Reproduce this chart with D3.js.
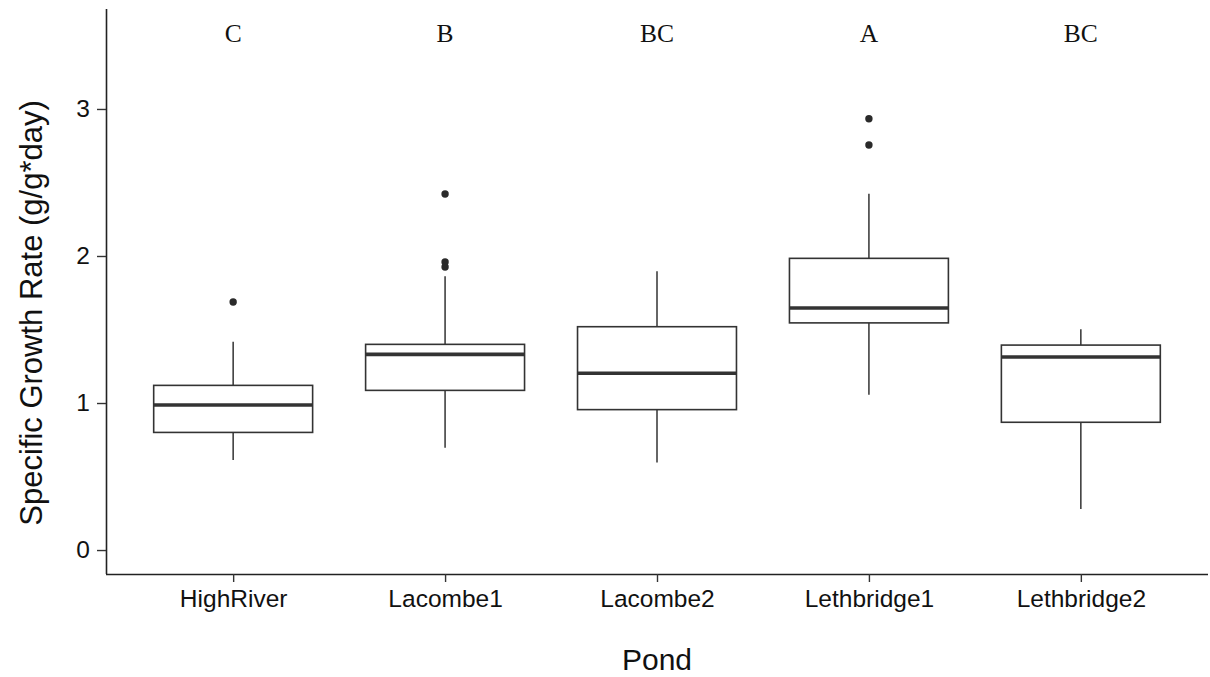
<!DOCTYPE html>
<html>
<head>
<meta charset="utf-8">
<script src="https://cdn.jsdelivr.net/npm/d3@7"></script>
<style>
  html, body { margin: 0; padding: 0; background: #fff; }
  svg { display: block; }
</style>
</head>
<body>
<svg id="chart" width="1210" height="677"></svg>
<script>
// Pond categories and box-plot summaries of specific growth rate (g/g*day)
const ponds = ["HighRiver", "Lacombe1", "Lacombe2", "Lethbridge1", "Lethbridge2"];
const whiskerLow  = [0.612, 0.695, 0.596, 1.056, 0.279];
const q1          = [0.800, 1.086, 0.955, 1.545, 0.869];
const median      = [0.987, 1.331, 1.202, 1.646, 1.313];
const q3          = [1.120, 1.399, 1.519, 1.984, 1.394];
const whiskerHigh = [1.416, 1.862, 1.896, 2.424, 1.501];
const outliers    = [[1.687], [2.422, 1.960, 1.925], [], [2.934, 2.755], []];
// Significance letters shown above each pond
const letters = ["C", "B", "BC", "A", "BC"];
const letterLevel = 3.5;
const yTicks = [0, 1, 2, 3];

const svg = d3.select("#chart");
const plotLeft = 106, plotRight = 1208, plotTop = 9, plotBottom = 574;

const x = d3.scalePoint().domain(ponds).range([plotLeft, plotRight]).padding(0.6);
const y = d3.scaleLinear().domain([-0.163, 3.68]).range([plotBottom, plotTop]);
const boxW = x.step() * 0.75;
const ink = "#333333";

const data = ponds.map((p, i) => ({
  pond: p, lo: whiskerLow[i], q1: q1[i], med: median[i], q3: q3[i],
  hi: whiskerHigh[i], out: outliers[i], letter: letters[i]
}));

const g = svg.append("g");

// whiskers
g.selectAll("line.wh-up").data(data).join("line")
  .attr("x1", d => x(d.pond)).attr("x2", d => x(d.pond))
  .attr("y1", d => y(d.q3)).attr("y2", d => y(d.hi))
  .attr("stroke", ink).attr("stroke-width", 1.5);
g.selectAll("line.wh-dn").data(data).join("line")
  .attr("x1", d => x(d.pond)).attr("x2", d => x(d.pond))
  .attr("y1", d => y(d.q1)).attr("y2", d => y(d.lo))
  .attr("stroke", ink).attr("stroke-width", 1.5);

// boxes
g.selectAll("rect.box").data(data).join("rect")
  .attr("x", d => x(d.pond) - boxW / 2)
  .attr("width", boxW)
  .attr("y", d => y(d.q3))
  .attr("height", d => y(d.q1) - y(d.q3))
  .attr("fill", "#fff").attr("stroke", ink).attr("stroke-width", 1.6);

// medians
g.selectAll("line.med").data(data).join("line")
  .attr("x1", d => x(d.pond) - boxW / 2).attr("x2", d => x(d.pond) + boxW / 2)
  .attr("y1", d => y(d.med)).attr("y2", d => y(d.med))
  .attr("stroke", ink).attr("stroke-width", 3.6);

// outlying points
const pts = data.flatMap(d => d.out.map(v => ({ pond: d.pond, v })));
g.selectAll("circle.out").data(pts).join("circle")
  .attr("cx", d => x(d.pond)).attr("cy", d => y(d.v)).attr("r", 3.7)
  .attr("fill", "#2a2a2a");

// group letters
g.selectAll("text.letter").data(data).join("text")
  .attr("x", d => x(d.pond)).attr("y", y(letterLevel)).attr("dy", "0.27em")
  .attr("text-anchor", "middle")
  .attr("font-family", "'Liberation Serif', 'Times New Roman', serif")
  .attr("font-size", 25.5).attr("fill", "#111")
  .text(d => d.letter);

// axes
const xAxis = svg.append("g").attr("transform", `translate(0,${plotBottom})`)
  .call(d3.axisBottom(x).tickSize(8).tickPadding(8));
const yAxis = svg.append("g").attr("transform", `translate(${plotLeft},0)`)
  .call(d3.axisLeft(y).tickValues(yTicks).tickFormat(d3.format("d")).tickSize(9).tickPadding(7));

[xAxis, yAxis].forEach(a => {
  a.select(".domain").attr("stroke", "#222").attr("stroke-width", 1.6);
  a.selectAll(".tick line").attr("stroke", "#333").attr("stroke-width", 1.4);
  a.selectAll(".tick text")
    .attr("font-family", "'Liberation Sans', Arial, sans-serif")
    .attr("font-size", 24.5).attr("fill", "#111");
});
xAxis.select(".domain").attr("d", `M${plotLeft},0.5H${plotRight}`);
yAxis.select(".domain").attr("d", `M0.5,${plotBottom}V${plotTop}`);

// axis titles
svg.append("text")
  .attr("x", 657).attr("y", 670)
  .attr("text-anchor", "middle")
  .attr("font-family", "'Liberation Sans', Arial, sans-serif")
  .attr("font-size", 30).attr("fill", "#111")
  .text("Pond");

svg.append("text")
  .attr("transform", "translate(42,313) rotate(-90)")
  .attr("text-anchor", "middle")
  .attr("font-family", "'Liberation Sans', Arial, sans-serif")
  .attr("font-size", 31).attr("fill", "#111")
  .text("Specific Growth Rate (g/g*day)");
</script>
</body>
</html>
